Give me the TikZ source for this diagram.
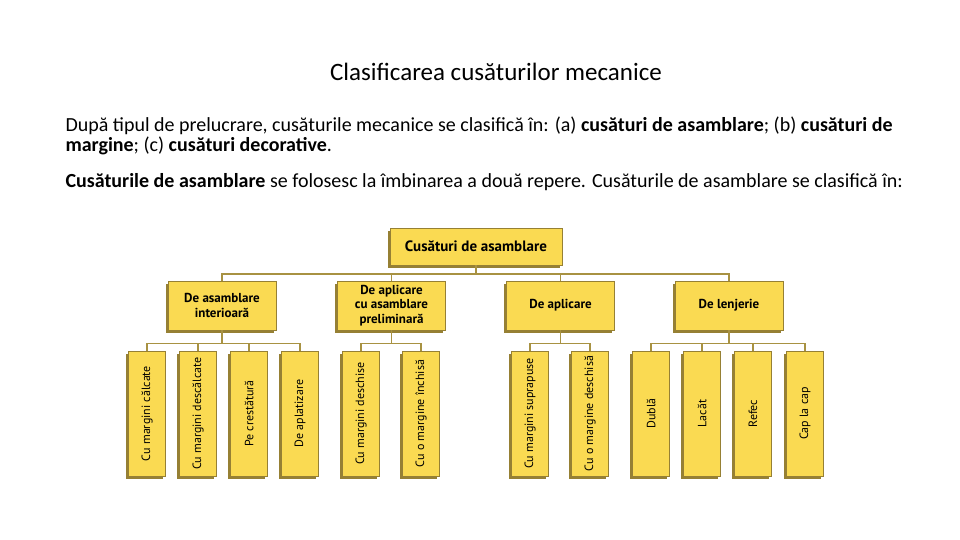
\documentclass[tikz,border=0pt]{standalone}
\usepackage{fontspec}
\setmainfont{Carlito}
\newfontfamily\boxfont{PT Sans}
\usetikzlibrary{shadows}
\definecolor{boxfill}{RGB}{250,218,82}
\definecolor{boxedge}{RGB}{150,128,52}
\definecolor{linkcol}{RGB}{168,146,66}
\tikzset{
  sbox/.style={draw=boxedge, fill=boxfill, line width=0.8pt, align=center, inner sep=0pt,
    drop shadow={shadow xshift=-2.5pt, shadow yshift=-2.5pt, fill=boxedge, opacity=1}},
  topbox/.style={sbox, minimum width=172, minimum height=37, font=\boxfont\fontsize{15}{17}\selectfont\bfseries},
  groupbox/.style={sbox, minimum width=108, minimum height=49, font=\boxfont\fontsize{13}{14.2}\selectfont\bfseries},
  leaf/.style={sbox, minimum width=37, minimum height=125, font=\boxfont\fontsize{12}{14}\selectfont},
  bodytext/.style={anchor=north west, align=left, font=\fontsize{20}{20}\selectfont},
  link/.style={draw=linkcol, line width=1.2pt}
}
\begin{document}
\begin{tikzpicture}[x=1pt,y=-1pt]
			%%%%% START %%%%%
			\useasboundingbox (0,0) rectangle (960,540);
			
			\node[font=\fontsize{25}{28}\selectfont] (title) at (496,72) {Clasificarea cusăturilor mecanice};
			
			\node[bodytext] (intro) at (62,113.5)
			  {După tipul de prelucrare, cusăturile mecanice se clasifică în: (a) \textbf{cusături de asamblare}; (b) \textbf{cusături de}\\
			   \textbf{margine}; (c) \textbf{cusături decorative}.};
			\node[bodytext] (assy) at (62,170)
			  {\textbf{Cusăturile de asamblare} se folosesc la îmbinarea a două repere. Cusăturile de asamblare se clasifică în:};
			
			\node[topbox] (top) at (476,246.5) {Cusături de asamblare};
			
			\node[groupbox] (ga) at (222,305.5) {De asamblare\\interioară};
			\node[groupbox] (gb) at (391.5,305.5) {De aplicare\\cu asamblare\\preliminară};
			\node[groupbox] (gc) at (560.5,305.5) {De aplicare};
			\node[groupbox] (gd) at (729,305.5) {De lenjerie};
			
			\node[leaf] (a1) at (147,413.5) {\rotatebox{90}{Cu margini călcate}};
			\node[leaf] (a2) at (198,413.5) {\rotatebox{90}{Cu margini descălcate}};
			\node[leaf] (a3) at (249,413.5) {\rotatebox{90}{Pe crestătură}};
			\node[leaf] (a4) at (300,413.5) {\rotatebox{90}{De aplatizare}};
			
			\node[leaf] (b1) at (361,413.5) {\rotatebox{90}{Cu margini deschise}};
			\node[leaf] (b2) at (421,413.5) {\rotatebox{90}{Cu o margine închisă}};
			
			\node[leaf] (c1) at (530,413.5) {\rotatebox{90}{Cu margini suprapuse}};
			\node[leaf] (c2) at (590,413.5) {\rotatebox{90}{Cu o margine deschisă}};
			
			\node[leaf] (d1) at (651,413.5) {\rotatebox{90}{Dublă}};
			\node[leaf] (d2) at (702,413.5) {\rotatebox{90}{Lacăt}};
			\node[leaf] (d3) at (753,413.5) {\rotatebox{90}{Refec}};
			\node[leaf] (d4) at (805,413.5) {\rotatebox{90}{Cap la cap}};
			
			\coordinate (bus0) at (0,274);
			\coordinate (bus1) at (0,343.5);
			
			\foreach \g in {ga,gb,gc,gd}
			  \draw[link] (top.south) -- (top.south |- bus0) -| (\g.north);
			\foreach \l in {a1,a2,a3,a4}
			  \draw[link] (ga.south) -- (ga.south |- bus1) -| (\l.north);
			\foreach \l in {b1,b2}
			  \draw[link] (gb.south) -- (gb.south |- bus1) -| (\l.north);
			\foreach \l in {c1,c2}
			  \draw[link] (gc.south) -- (gc.south |- bus1) -| (\l.north);
			\foreach \l in {d1,d2,d3,d4}
			  \draw[link] (gd.south) -- (gd.south |- bus1) -| (\l.north);
			
			%%%%% END %%%%%
\end{tikzpicture}
\end{document}
